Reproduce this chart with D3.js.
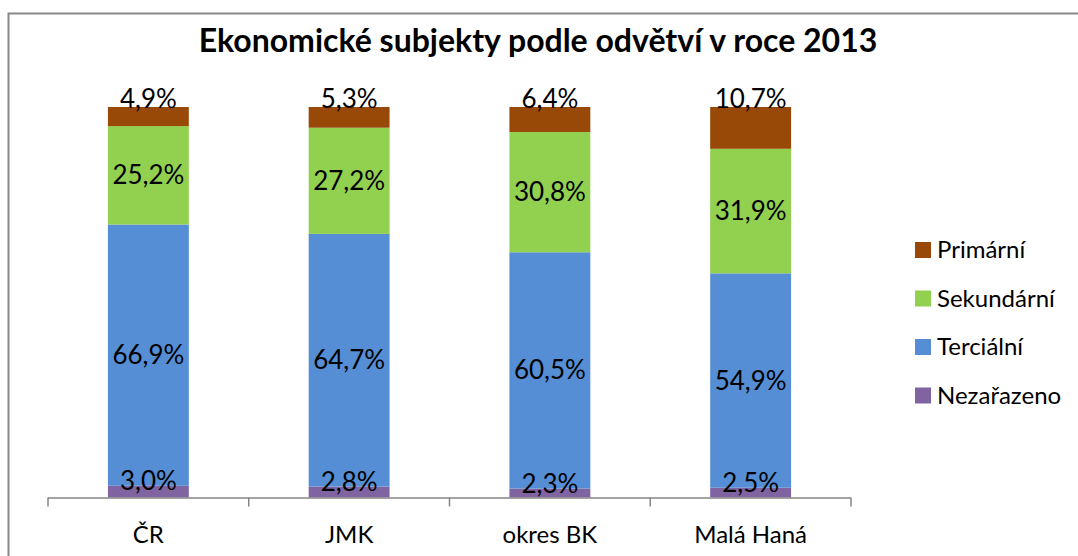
<!DOCTYPE html>
<html>
<head>
<meta charset="utf-8">
<script src="https://cdn.jsdelivr.net/npm/d3@7"></script>
<style>
  body { margin: 0; background: #fff; }
  svg { display: block; }
</style>
</head>
<body>
<script>
// data (percent of subjects per sector)
var categories = ['ČR', 'JMK', 'okres BK', 'Malá Haná'];
var seriesNames = ['Nezařazeno', 'Terciální', 'Sekundární', 'Primární'];
var nezarazeno = [3.0, 2.8, 2.3, 2.5];
var tercialni = [66.9, 64.7, 60.5, 54.9];
var sekundarni = [25.2, 27.2, 30.8, 31.9];
var primarni = [4.9, 5.3, 6.4, 10.7];
var colors = ['#8064a2', '#558ed5', '#92d050', '#984807'];

var svgwidth = 1078,
    svgheight = 556,
    font = 'Lato, "Open Sans", sans-serif',
    axisy = 497.5; // baseline of the bars

var rows = categories.map(function (c, i) {
    return { cat: c, 'Nezařazeno': nezarazeno[i], 'Terciální': tercialni[i], 'Sekundární': sekundarni[i], 'Primární': primarni[i] };
});
var stacked = d3.stack().keys(seriesNames)(rows);

var xscale = d3.scaleBand()
    .domain(categories)
    .range([48, 851])
    .paddingInner(0.597)
    .paddingOuter(0.2985);

var yscale = d3.scaleLinear()
    .domain([0, 100])
    .range([axisy, 107]);

var svg = d3.select('body')
    .append('svg')
    .attr('width', svgwidth)
    .attr('height', svgheight);

// chart border, runs off the right and bottom edge
svg.append('rect')
    .attr('x', 8.5)
    .attr('y', 13.5)
    .attr('width', 1200)
    .attr('height', 700)
    .attr('fill', '#fff')
    .attr('stroke', '#888')
    .attr('stroke-width', 2);

// title
svg.append('text')
    .attr('x', 538)
    .attr('y', 52)
    .attr('text-anchor', 'middle')
    .attr('font-family', font)
    .attr('font-size', '32px')
    .attr('font-weight', 'bold')
    .attr('fill', '#000')
    .text('Ekonomické subjekty podle odvětví v roce 2013');

// bars
var layer = svg.selectAll('g.layer')
    .data(stacked)
    .enter().append('g')
    .attr('class', 'layer')
    .attr('fill', function (d, i) { return colors[i]; });

layer.selectAll('rect')
    .data(function (d) { return d; })
    .enter().append('rect')
    .attr('x', function (d) { return xscale(d.data.cat); })
    .attr('width', xscale.bandwidth())
    .attr('y', function (d) { return yscale(d[1]); })
    .attr('height', function (d) { return yscale(d[0]) - yscale(d[1]); });

// x axis: ticks between categories
var boundaries = categories.map(function (c) { return xscale(c) - xscale.step() * xscale.paddingInner() / 2; });
boundaries.push(xscale.range()[1]);
var axis = svg.append('g');
axis.append('line')
    .attr('x1', xscale.range()[0])
    .attr('x2', xscale.range()[1])
    .attr('y1', axisy + 0.5)
    .attr('y2', axisy + 0.5)
    .attr('stroke', '#868686')
    .attr('stroke-width', 1.5);
axis.selectAll('line.tick')
    .data(boundaries)
    .enter().append('line')
    .attr('class', 'tick')
    .attr('x1', function (d) { return d; })
    .attr('x2', function (d) { return d; })
    .attr('y1', axisy)
    .attr('y2', axisy + 9)
    .attr('stroke', '#868686')
    .attr('stroke-width', 1.5);
axis.selectAll('text')
    .data(categories)
    .enter().append('text')
    .attr('x', function (d) { return xscale(d) + xscale.bandwidth() / 2; })
    .attr('y', 543)
    .attr('text-anchor', 'middle')
    .attr('font-family', font)
    .attr('font-size', '24px')
    .attr('fill', '#000')
    .text(function (d) { return d; });

// data labels drawn over all bars: top series sits on the bar, bottom series just above its segment
var labels = svg.append('g');
stacked.forEach(function (s, si) {
    labels.selectAll('text.s' + si)
        .data(s)
        .enter().append('text')
        .attr('class', 's' + si)
        .attr('x', function (d) { return xscale(d.data.cat) + xscale.bandwidth() / 2; })
        .attr('y', function (d) {
            if (si === seriesNames.length - 1) return yscale(d[1]) + 1;
            if (si === 0) return yscale(d[1]) + 4;
            return (yscale(d[0]) + yscale(d[1])) / 2 + 9;
        })
        .attr('text-anchor', 'middle')
        .attr('font-family', font)
        .attr('font-size', '26px')
        .attr('fill', '#000')
        .text(function (d) { return (d[1] - d[0]).toFixed(1).replace('.', ',') + '%'; });
});

// legend, top entry is Primární
var legend = svg.append('g');
var legendItems = legend.selectAll('g')
    .data(seriesNames.slice().reverse())
    .enter().append('g')
    .attr('transform', function (d, i) { return 'translate(915, ' + (242 + i * 48.5) + ')'; });
legendItems.append('rect')
    .attr('width', 16)
    .attr('height', 16)
    .attr('fill', function (d) { return colors[seriesNames.indexOf(d)]; });
legendItems.append('text')
    .attr('x', 22)
    .attr('y', 16)
    .attr('font-family', font)
    .attr('font-size', '24px')
    .attr('fill', '#000')
    .text(function (d) { return d; });
</script>
</body>
</html>
